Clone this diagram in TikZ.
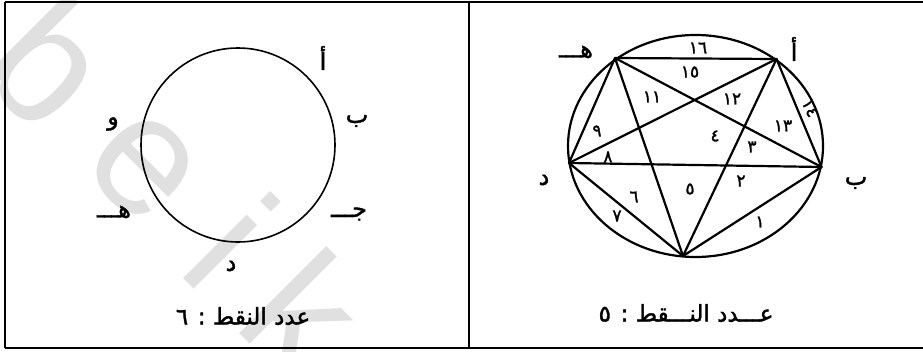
\documentclass[tikz,border=0pt]{standalone}
\usepackage{fontspec}
\setmainfont{Liberation Sans}
\newfontfamily\arabicfont[Script=Arabic,FakeBold=1.6]{DejaVu Sans}
\TeXXeTstate=1
\tikzset{%
  pointlabel/.style={%
    inner sep=0pt,
    font=\arabicfont\fontsize{24}{24}\selectfont
  },
  regionnum/.style={%
    inner sep=0pt,
    font=\arabicfont\fontsize{17}{17}\selectfont
  },
  captiontext/.style={%
    inner sep=0pt,
    font=\arabicfont\fontsize{23}{23}\selectfont
  },
  chord/.style={line width=2.2pt,line join=round,line cap=round},
  rimline/.style={line width=1.6pt},
  framerule/.style={line width=1.3pt},
  watermark/.style={%
    text=black!12,
    inner sep=0pt,
    rotate=-45,
    font=\fontsize{170}{170}\selectfont
  }
}

\begin{document}
\begin{tikzpicture}[x=1pt,y=-1pt]
  \useasboundingbox (0,0) rectangle (923,351);

  % faint watermark behind everything
  \node[watermark] (wmb) at (50,62) {b};
  \node[watermark] (wme) at (143,167) {e};
  \node[watermark] (wmi) at (232,240) {i};
  \node[watermark] (wmk) at (305,312) {k};

  % frame of the two panels
  \draw[framerule] (5,2) -- (923,2);
  \draw[framerule] (5,348) -- (923,348);
  \draw[framerule] (5,2) -- (5,348);
  \draw[framerule] (469,2) -- (469,348);

  % left panel: six points on a circle
  \coordinate (lc) at (238,145);
  \draw[rimline] (lc) circle (97);
  \node[pointlabel] (lA) at (323,58) {أ};
  \node[pointlabel] (lB) at (357,121) {ب};
  \node[pointlabel] (lC) at (349,214) {جـــ};
  \node[pointlabel] (lD) at (231,266) {د};
  \node[pointlabel] (lE) at (114,212) {هـــ};
  \node[pointlabel] (lF) at (113,124) {و};
  \node[captiontext] (lcap) at (243,316) {\beginR عدد النقط : ٦\endR};

  % right panel: five points, every chord drawn
  \coordinate (rc) at (695.5,146);
  \draw[chord] (rc) ellipse [x radius=127.5, y radius=111];
  \coordinate (pA) at (776.5,59);
  \coordinate (pB) at (821.5,167);
  \coordinate (pC) at (683,256);
  \coordinate (pD) at (569,163);
  \coordinate (pE) at (615,58);

  \draw[chord] (pE) -- (pA);
  \draw[chord] (pA) -- (pB);
  \draw[chord] (pB) -- (pC);
  \draw[chord] (pC) -- (pD);
  \draw[chord] (pD) -- (pE);
  \draw[chord] (pE) -- (pB);
  \draw[chord] (pE) -- (pC);
  \draw[chord] (pA) -- (pD);
  \draw[chord] (pA) -- (pC);
  \draw[chord] (pD) -- (pB);

  \node[pointlabel] (rA) at (794,49) {أ};
  \node[pointlabel] (rB) at (856,183) {ب};
  \node[pointlabel] (rD) at (544,180) {د};
  \node[pointlabel] (rE) at (576,52) {هـــ};

  % region numbers
  \node[regionnum] (n1) at (760,222) {١};
  \node[regionnum] (n2) at (741,181) {٢};
  \node[regionnum] (n3) at (752,147) {٣};
  \node[regionnum] (n4) at (715,136) {٤};
  \node[regionnum] (n5) at (690,189) {٥};
  \node[regionnum] (n6) at (634,197) {٦};
  \node[regionnum] (n7) at (617,216) {٧};
  \node[regionnum] (n8) at (608,157) {٨};
  \node[regionnum] (n9) at (597,131) {٩};
  \node[regionnum] (n11) at (652,97) {١١};
  \node[regionnum] (n12) at (732,99) {١٢};
  \node[regionnum] (n13) at (783,126) {١٣};
  \node[regionnum,rotate=-65] (n14) at (810,108) {١٤};
  \node[regionnum] (n15) at (690,72) {١٥};
  \node[regionnum] (n16) at (698,48) {١٦};

  \node[captiontext] (rcap) at (686,313) {\beginR عـــدد النـــقط : ٥\endR};
\end{tikzpicture}
\end{document}
